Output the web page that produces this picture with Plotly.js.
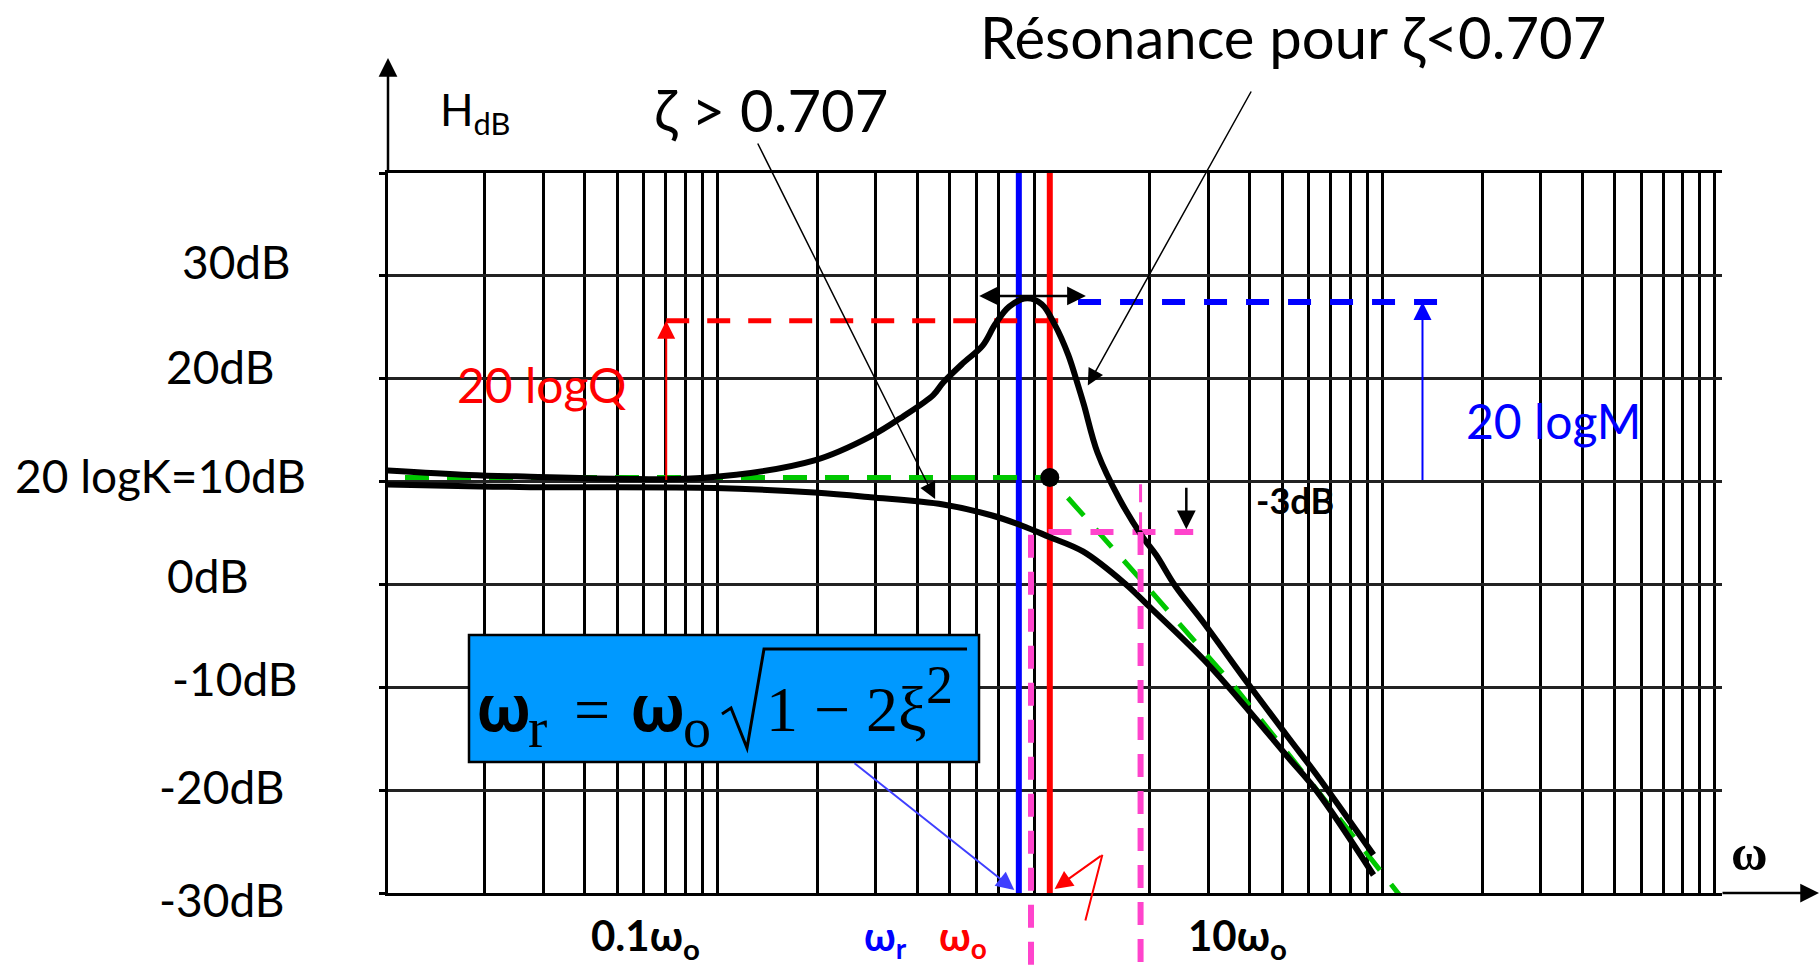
<!DOCTYPE html>
<html><head><meta charset="utf-8">
<script src="https://cdn.plot.ly/plotly-3.0.1.min.js"></script>
<style>html,body{margin:0;padding:0;background:#fff;}#chart{width:1820px;height:968px;}</style>
</head><body><div id="chart"></div>
<script>
// ---------- values (x = ω/ωo, y = dB) ----------
const omegaRes = [0.0100,0.0179,0.0274,0.0494,0.0918,0.196,0.289,0.363,0.446,0.478,0.547,0.628,0.685,0.755,0.855,0.946,1.034,1.137,1.216,1.266,1.392,1.626,1.899,2.089,2.388,2.906,3.963,5.224,6.353,9.41];
const dbRes    = [11.1,10.65,10.47,10.28,10.37,12.06,14.39,16.36,18.41,19.63,21.49,23.22,25.29,27.01,27.82,27.24,25.29,22.30,19.35,17.48,12.80,8.21,4.64,2.86,-0.18,-3.75,-9.73,-14.90,-18.53,-26.29];
const omegaOver = [0.0100,0.0179,0.0274,0.0986,0.196,0.289,0.478,0.671,0.826,0.993,1.258,1.682,1.963,2.906,3.963,5.224,6.353,9.41];
const dbOver    = [9.73,9.55,9.46,9.38,8.93,8.48,7.77,6.70,5.71,4.64,3.21,0.09,-1.96,-7.32,-12.25,-16.86,-20.10,-28.25];
const omegaAsym = [0.0115,1.0,1.933,3.607,6.362,11.12,12.22];
const dbAsym    = [10.4,10.4,0,-10,-20,-30,-31.65];

const omegaR = 0.807;          // ωr
const omega0 = 1.0;            // ωo
const dbK = 10.4;              // 20 logK point
const levelQ = 25.63, spanQ = [0.0702, 1.084];     // 20 logQ dashed level
const levelM = 27.47, spanM = [1.216, 16.4];       // 20 logM dashed level
const levelPeak = 28.05, spanPeak = [0.607, 1.284];// double arrow
const level3dB = 5.09, span3dB = [0.991, 2.70];    // -3dB dashed level
const omegaCut1 = 0.878, dbCut1 = 4.82;            // pink verticals
const omegaCut2 = 1.875, dbCut2Top = 9.73;
const omegaArrowQ = 0.0702, omegaArrowM = 13.21;
const omega3dBArrow = 2.574, db3dBFrom = 9.55, db3dBTo = 5.36;

const yTickVals = [-30,-20,-10,0,10,20,30];
const yTickText = ['-30dB','-20dB','-10dB','0dB','20 logK=10dB','20dB','30dB'];
const yTickRight = [287,287,300,251,308,277,293];   // label right edges (px)
const yTickShift = [-6,4,9,9,6,12,14];

// ---------- layout geometry ----------
const W = 1820, H = 968;
const L = 388, R = 1722, T = 173, B = 893;
const XR = [-1.9904, 2.0217], YR = [-30, 40];
const px = x => (x - L) / (R - L);
const py = y => (B - y) / (B - T);
const logAtPx = x => XR[0] + (x - L) / (R - L) * (XR[1] - XR[0]);
const dbAtPx = y => YR[1] - (y - T) / (B - T) * (YR[1] - YR[0]);
const dbToPaper = v => (v - YR[0]) / (YR[1] - YR[0]);
const lg = Math.log10;

const SANS = 'Lato, "Noto Sans", "DejaVu Sans", sans-serif';
const GREEKB = '"Noto Sans", "DejaVu Sans", sans-serif';
const SERIF = '"Liberation Serif", "DejaVu Serif", serif';
const RED = '#FF0000', BLUE = '#0000FF', PINK = '#FF44CC', GREEN = '#00C800';

const traces = [
  {x:[omegaR, omegaR], y:YR, mode:'lines', line:{color:BLUE, width:6}},
  {x:[omega0, omega0], y:YR, mode:'lines', line:{color:RED, width:6}},
  {x:spanQ, y:[levelQ, levelQ], mode:'lines', line:{color:RED, width:5, dash:'23px,18px'}},
  {x:spanM, y:[levelM, levelM], mode:'lines', line:{color:BLUE, width:6, dash:'23px,19px'}},
  {x:omegaAsym, y:dbAsym, mode:'lines', line:{color:GREEN, width:5, dash:'24px,18px'}},
  {x:span3dB, y:[level3dB, level3dB], mode:'lines', line:{color:PINK, width:6, dash:'23px,19px'}},
  {x:omegaOver, y:dbOver, mode:'lines', line:{color:'#000', width:6, shape:'spline', smoothing:1}},
  {x:omegaRes, y:dbRes, mode:'lines', line:{color:'#000', width:6, shape:'spline', smoothing:1}},
  {x:[omega0], y:[dbK], mode:'markers', marker:{color:'#000', size:19}}
];

function toPaperPath(pts){
  return pts.map((p,i)=>(i?'L ':'M ')+px(p[0]).toFixed(5)+','+py(p[1]).toFixed(5)).join(' ');
}

const shapes = [
  {type:'line', xref:'x', yref:'paper', x0:omegaCut1, x1:omegaCut1, y0:dbToPaper(dbCut1), y1:py(968),
   line:{color:PINK, width:6, dash:'23px,14px'}},
  {type:'line', xref:'x', yref:'paper', x0:omegaCut2, x1:omegaCut2, y0:dbToPaper(level3dB), y1:py(968),
   line:{color:PINK, width:6, dash:'23px,14px'}},
  {type:'line', xref:'x', yref:'y', x0:omegaCut2, x1:omegaCut2, y0:dbCut2Top, y1:level3dB,
   line:{color:PINK, width:3, dash:'18px,10px'}},
  {type:'rect', xref:'paper', yref:'paper', x0:px(469), x1:px(979), y0:py(762), y1:py(635),
   fillcolor:'#0099FF', line:{color:'#000', width:2.5}},
  {type:'path', xref:'paper', yref:'paper',
   path: toPaperPath([[722,714],[731,708],[747,748],[764,649],[967,649]]),
   line:{color:'#000', width:3}}
];

function arr(xh, yh, axl, ayv, color, width, size, extra){
  return Object.assign({xref:'x', yref:'y', axref:'x', ayref:'y', x:lg(xh), y:yh, ax:axl, ay:ayv,
    text:'', showarrow:true, arrowhead:2, arrowsize:size, arrowwidth:width, arrowcolor:color, standoff:0, startstandoff:0}, extra||{});
}
function txt(text, x, y, size, color, family){
  return {xref:'paper', yref:'paper', x:px(x), y:py(y), text:text, showarrow:false,
    xanchor:'left', yanchor:'middle', font:{family:family||SANS, size:size, color:color||'#000'}};
}

const annotations = [
  // axis arrows
  {xref:'paper', yref:'paper', x:0, y:py(58), ax:0, ay:115, text:'', showarrow:true, arrowhead:2, arrowsize:1.5, arrowwidth:2.5, arrowcolor:'#000', standoff:0},
  {xref:'paper', yref:'paper', x:px(1819), y:0, ax:-98, ay:0, text:'', showarrow:true, arrowhead:2, arrowsize:1.5, arrowwidth:2.5, arrowcolor:'#000', standoff:0},
  // 20 logQ and 20 logM arrows
  arr(omegaArrowQ, levelQ, lg(omegaArrowQ), dbK - 0.4, RED, 2, 1.8),
  arr(omegaArrowM, levelM, lg(omegaArrowM), dbK - 0.4, BLUE, 2, 1.8),
  // double arrow at peak
  arr(spanPeak[1], levelPeak, lg(spanPeak[0]), levelPeak, '#000', 2.5, 1.5, {arrowside:'end+start'}),
  // -3dB arrow
  arr(omega3dBArrow, db3dBTo, lg(omega3dBArrow), db3dBFrom, '#000', 2.5, 1.5),
  // pointers
  arr(0.452, 8.3, logAtPx(757), dbAtPx(142), '#000', 1.5, 2.2),
  arr(1.301, 19.35, logAtPx(1252), dbAtPx(90), '#000', 1.5, 2.2),
  arr(0.782, -29.7, logAtPx(853), dbAtPx(762), '#3F3FFF', 2, 1.8),
  arr(1.034, -29.6, lg(1.439), -26.29, RED, 2, 1.8),
  arr(1.439, -26.29, logAtPx(1085), dbAtPx(922), RED, 2, 1, {arrowhead:0}),
  // texts
  txt('H<sub>dB</sub>', 438, 112, 44),
  txt('ζ > 0.707', 652, 109, 58),
  txt('Résonance pour ζ<0.707', 978, 36, 58),
  txt('20 logQ', 455, 384, 48, RED),
  txt('20 logM', 1464, 420, 48, BLUE),
  txt('<b>-3dB</b>', 1254, 500, 36),
  txt('<b>0.1ω<sub>o</sub></b>', 589, 938, 42),
  txt('<b>10ω<sub>o</sub></b>', 1186, 938, 42),
  txt('<b>ω<sub>r</sub></b>', 862, 938, 40, BLUE),
  txt('<b>ω<sub>o</sub></b>', 937, 938, 40, RED),
  txt('<b>ω</b>', 1729, 853, 50, '#000', SERIF),
  // formula  ωr = ωo √(1 − 2ξ²)
  txt('<b>ω</b>', 474, 706, 64, '#000', GREEKB),
  txt('r', 526, 727, 58, '#000', SERIF),
  txt('=', 572, 709, 64, '#000', SERIF),
  txt('<b>ω</b>', 628, 706, 64, '#000', GREEKB),
  txt('o', 681, 728, 56, '#000', SERIF),
  txt('1\u00A0−\u00A02ξ', 764, 709, 64, '#000', SERIF),
  txt('2', 924, 685, 54, '#000', SERIF)
];
yTickVals.forEach((v,i)=>{
  annotations.push({xref:'paper', yref:'y', x:px(yTickRight[i]), y:v, yshift:yTickShift[i], text:yTickText[i],
    showarrow:false, xanchor:'right', yanchor:'middle', font:{family:SANS, size:46, color:'#000'}});
});

const layout = {
  width:W, height:H, autosize:false,
  margin:{l:L, r:W-R, t:T, b:H-B, pad:0},
  paper_bgcolor:'#fff', plot_bgcolor:'#fff', showlegend:false,
  xaxis:{type:'log', range:XR, dtick:'D1', showticklabels:false, ticks:'', showgrid:true,
         gridcolor:'#000', gridwidth:3, showline:true, linecolor:'#000', linewidth:3, mirror:true, zeroline:false, fixedrange:true},
  yaxis:{range:YR, dtick:10, tick0:0, showticklabels:false, ticks:'outside', ticklen:6, tickwidth:3, tickcolor:'#000',
         showgrid:true, gridcolor:'#222', gridwidth:3, showline:true, linecolor:'#000', linewidth:3, zeroline:false, fixedrange:true},
  shapes:shapes, annotations:annotations
};
Plotly.newPlot('chart', traces, layout, {staticPlot:true, displayModeBar:false});
</script></body></html>
